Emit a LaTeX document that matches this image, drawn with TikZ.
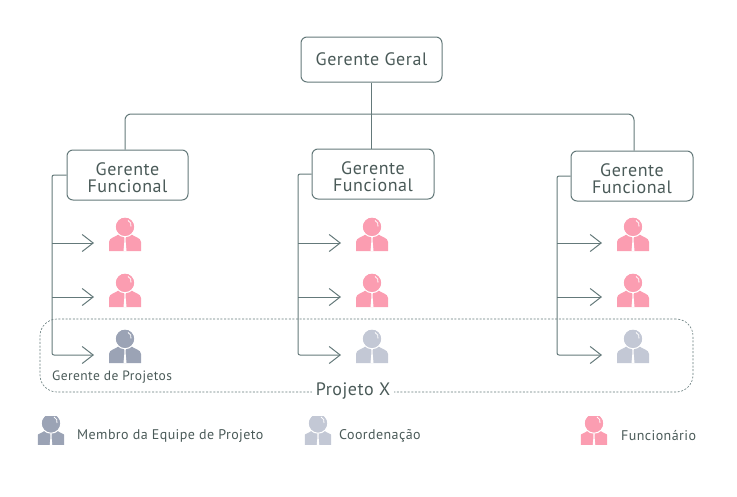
\documentclass[tikz,border=0pt]{standalone}
\usepackage{fontspec}
\setmainfont[LetterSpace=3]{PT Sans}
\usetikzlibrary{arrows.meta}
\definecolor{linhacor}{HTML}{64797A}
\definecolor{textocor}{HTML}{4A5A58}
\definecolor{rosa}{HTML}{FB9DB1}
\definecolor{escuro}{HTML}{9BA3B5}
\definecolor{claro}{HTML}{C3C8D5}
\tikzset{
  linha/.style={draw=linhacor, line width=1pt},
  seta/.style={linha, -{Straight Barb[length=11pt, width=17pt, line width=1pt]}, shorten >=15pt},
  caixa/.style={linha, fill=white, rounded corners=6pt, align=center, text=textocor,
    font=\fontsize{18}{17.5}\selectfont, inner sep=0pt},
  caixaf/.style={caixa, minimum height=50pt, text height=36pt},
  legenda/.style={text=textocor, font=\fontsize{14}{16}\selectfont, inner sep=0pt},
  persona/.style n args={2}{minimum width=#2*32pt, minimum height=#2*34pt, inner sep=0pt, outer sep=0pt,
    path picture={
      \begin{scope}[shift={(path picture bounding box.center)}, scale=#2]
        \fill[#1] (-16,17) -- (-16,8) .. controls (-16,3.5) and (-9,3) .. (-6,0)
          -- (6,0) .. controls (9,3) and (16,3.5) .. (16,8) -- (16,17) -- cycle;
        \fill[#1] (0,-7.2) circle (9.4);
        \draw[white, line width=1pt] (0,-7.2) circle (9.9);
        \fill[white] (-0.8,3) -- (0.8,3) -- (0.5,6) -- (1.5,17) -- (-1.5,17) -- (-0.5,6) -- cycle;
        \draw[white, line width=0.8pt] (3,-13.5) .. controls (5.5,-12.5) and (6.5,-10) .. (6,-7.5);
      \end{scope}
    }},
}
\begin{document}
\begin{tikzpicture}[x=1pt, y=-1pt]
  \useasboundingbox (0,0) rectangle (737,496);
  % caixas
  \node[caixa, minimum width=141pt, minimum height=45pt] (geral) at (371.5,59.5) {Gerente Geral};
  \node[caixaf, minimum width=121pt] (func1) at (127.5,175) {Gerente\\Funcional};
  \node[caixaf, minimum width=122pt] (func2) at (373,174) {Gerente\\Funcional};
  \node[caixaf, minimum width=122pt] (func3) at (632,176) {Gerente\\Funcional};
  % pessoas
  \node[persona={rosa}{1}] (p11) at (125,234) {};
  \node[persona={rosa}{1}] (p12) at (125,290) {};
  \node[persona={escuro}{1}] (p13) at (125,346) {};
  \node[persona={rosa}{1}] (p21) at (372,234) {};
  \node[persona={rosa}{1}] (p22) at (372,290) {};
  \node[persona={claro}{1}] (p23) at (372,346) {};
  \node[persona={rosa}{1}] (p31) at (633,234) {};
  \node[persona={rosa}{1}] (p32) at (633,290) {};
  \node[persona={claro}{1}] (p33) at (633,346) {};
  % ligacoes de cima
  \coordinate (barraE) at (125,114);
  \coordinate (barraD) at (634,114);
  \draw[linha] (geral.south) -- (geral.south |- func2.north);
  \draw[linha, rounded corners=6pt] (func1.north -| barraE) -- (barraE) -- (barraD) -- (func3.north -| barraD);
  % troncos
  \coordinate (t11) at (52,243);
  \coordinate (t12) at (52,297);
  \coordinate (t13) at (52,355);
  \coordinate (t21) at (298,243);
  \coordinate (t22) at (298,297);
  \coordinate (t23) at (298,355);
  \coordinate (t31) at (557,243);
  \coordinate (t32) at (557,297);
  \coordinate (t33) at (557,355);
  \draw[seta, rounded corners=2pt] (func1.west) -| (t13) -- (t13 -| p13.west);
  \draw[seta] (t11) -- (t11 -| p11.west);
  \draw[seta] (t12) -- (t12 -| p12.west);
  \draw[seta, rounded corners=2pt] (func2.west) -| (t23) -- (t23 -| p23.west);
  \draw[seta] (t21) -- (t21 -| p21.west);
  \draw[seta] (t22) -- (t22 -| p22.west);
  \draw[seta, rounded corners=2pt] (func3.west) -| (t33) -- (t33 -| p33.west);
  \draw[seta] (t31) -- (t31 -| p31.west);
  \draw[seta] (t32) -- (t32 -| p32.west);
  % projeto
  \node[draw=linhacor, dash pattern=on 2pt off 1.6pt, line width=0.6pt, rounded corners=17pt,
    minimum width=653pt, minimum height=73pt, inner sep=0pt] (projx) at (366.5,355.5) {};
  \node[caixa, draw=none, rounded corners=0pt, inner xsep=4pt, inner ysep=2pt] (rotulo) at (353,391) {Projeto X};
  \node[legenda, anchor=west, font=\fontsize{13.5}{15}\selectfont] (gerproj) at (52,377) {Gerente de Projetos};
  % legenda
  \node[persona={escuro}{0.82}] (lmembro) at (51,430.5) {};
  \node[legenda, anchor=west] (tmembro) at (77,436) {Membro da Equipe de Projeto};
  \node[persona={claro}{0.82}] (lcoord) at (318,430.5) {};
  \node[legenda, anchor=west] (tcoord) at (339,436) {Coordenação};
  \node[persona={rosa}{0.82}] (lfunc) at (594,430.5) {};
  \node[legenda, anchor=west] (tfunc) at (621,436) {Funcionário};
\end{tikzpicture}
\end{document}
